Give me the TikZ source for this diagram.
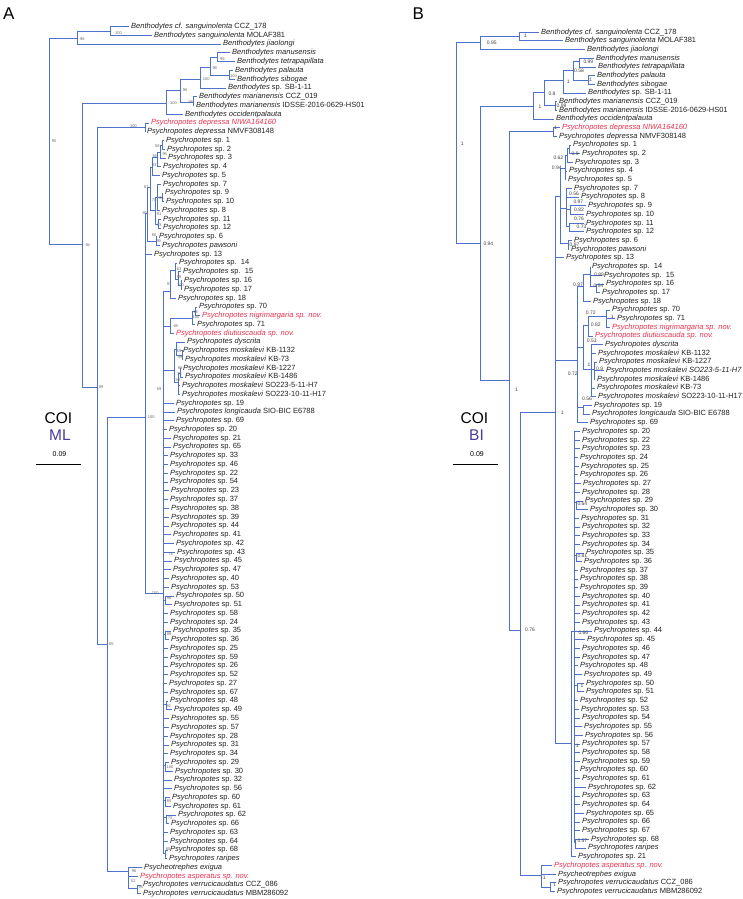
\documentclass[tikz,border=0pt]{standalone}
\usepackage{fontspec}
\setmainfont{Liberation Sans}
\setsansfont{Liberation Sans}
\definecolor{brc}{RGB}{78,114,204}
\definecolor{redt}{RGB}{235,50,80}
\definecolor{txt}{RGB}{35,35,35}
\definecolor{mlc}{RGB}{72,62,160}
\tikzset{
 br/.style={draw=brc, line width=1pt},
 lf/.style={anchor=west, inner xsep=2pt, inner ysep=0pt, font=\fontsize{7.5}{8}\selectfont, text=txt, text height=4.8pt, text depth=1.3pt},
 rd/.style={text=redt, font=\fontsize{7.5}{8}\selectfont\itshape},
 supA/.style={anchor=west, inner sep=0pt, font=\fontsize{4}{4}\selectfont, text=black!60},
 supB/.style={anchor=west, inner sep=0pt, font=\fontsize{5}{5}\selectfont, text=black!75},
 big/.style={inner sep=0pt, font=\fontsize{15.5}{16}\selectfont},
}
\newcommand\psy{\textit{Psychropotes}}
\newcommand\ben{\textit{Benthodytes}}
\newcommand\LA[5][]{\node[lf,#1] (la#4) at ({#3-2},{26.7+(#4-1)*8.76}) {#5};\draw[br] (#2) |- (la#4.west);}
\newcommand\SPA[4]{\LA{#1}{#2}{#3}{\psy{} sp.~#4}}
\newcommand\LB[5][]{\node[lf,#1] (lb#4) at ({#3-2},{32.3+(#4-1)*8.68}) {#5};\draw[br] (#2) |- (lb#4.west);}
\newcommand\SPB[4]{\LB{#1}{#2}{#3}{\psy{} sp.~#4}}
\newcommand\IN[4]{\coordinate (#1) at (#3,#4);\draw[br] (#2) |- (#1);}
\newcounter{slc}
\newcommand\SA[3]{\stepcounter{slc}\node[supA] (s\arabic{slc}) at (#1,#2) {#3};}
\newcommand\SB[3]{\stepcounter{slc}\node[supB] (s\arabic{slc}) at (#1,#2) {#3};}
\begin{document}
\begin{tikzpicture}[x=1pt,y=-1pt]
\fill[white] (0,0) rectangle (743,899);
\path[use as bounding box] (0,0) rectangle (743,899);
\node[anchor=base west, inner sep=0pt, font=\fontsize{17}{17}\selectfont] (pA) at (3,20) {A};
\node[anchor=base west, inner sep=0pt, font=\fontsize{17}{17}\selectfont] (pB) at (412.5,20) {B};
% legend A
\node[big, anchor=base] (coiA) at (58.5,423) {COI};
\node[big, anchor=base, text=mlc] (mlA) at (60,440) {ML};
\node[inner sep=0pt, font=\fontsize{7}{7}\selectfont] (sA) at (59.5,454.5) {0.09};
\coordinate (sA1) at (35.7,464); \coordinate (sA2) at (81,464);
\draw[line width=0.9pt] (sA1) -- (sA2);
% legend B
\node[big, anchor=base] (coiB) at (474.5,423) {COI};
\node[big, anchor=base, text=mlc] (biB) at (476.5,440) {BI};
\node[inner sep=0pt, font=\fontsize{7}{7}\selectfont] (sB) at (477,454.5) {0.09};
\coordinate (sB1) at (453.3,464); \coordinate (sB2) at (498.3,464);
\draw[line width=0.9pt] (sB1) -- (sB2);

% ================= TREE A =================
\coordinate (rA) at (49,141.5);
\IN{a96}{rA}{77}{38.7}
\IN{a100s}{a96}{110}{31.2}
\LA{a100s}{131}{1}{\textit{Benthodytes cf. sanguinolenta} CCZ\_178}
\LA{a100s}{154}{2}{\textit{Benthodytes sanguinolenta} MOLAF381}
\LA{a96}{223}{3}{\textit{Benthodytes jiaolongi}}
\IN{a94}{rA}{82}{244}
\IN{aB}{a94}{166}{103}
\IN{a96b}{aB}{180}{90}
\IN{a100b}{a96b}{200}{79}
\IN{a98}{a100b}{210}{67.5}
\IN{a99b}{a98}{217}{58}
\LA{a99b}{232}{4}{\textit{Benthodytes manusensis}}
\LA{a99b}{237}{5}{\textit{Benthodytes tetrapapillata}}
\IN{a100c}{a98}{229}{75.3}
\LA{a100c}{235}{6}{\textit{Benthodytes palauta}}
\LA{a100c}{237}{7}{\textit{Benthodytes sibogae}}
\LA{a100b}{228}{8}{\ben{} sp. SB-1-11}
\IN{aMar}{a96b}{193}{102.3}
\LA{aMar}{199}{9}{\textit{Benthodytes marianensis} CCZ\_019}
\LA{aMar}{196}{10}{\textit{Benthodytes marianensis} IDSSE-2016-0629-HS01}
\LA{aB}{185}{11}{\textit{Benthodytes occidentpalauta}}
\IN{a99}{a94}{97}{387}
\IN{aDep}{a99}{145}{127.8}
\LA[rd]{aDep}{151}{12}{Psychropotes depressa NIWA164160}
\LA{aDep}{147}{13}{\textit{Psychropotes depressa} NMVF308148}
\IN{a85}{a99}{107}{644}
\IN{aP}{a85}{145.7}{417}
\IN{a85n}{aP}{147.5}{213}
\IN{a67}{a85n}{150}{187}
\IN{a93}{a67}{152}{167}
\IN{a56}{a93}{157}{157}
\IN{a95}{a56}{160}{152}
\IN{a58}{a95}{162}{145}
\SPA{a58}{166}{14}{1}
\SPA{a58}{167}{15}{2}
\SPA{a95}{168}{16}{3}
\SPA{a56}{163}{17}{4}
\SPA{a93}{162}{18}{5}
\IN{a91}{a67}{155}{210}
\IN{a73a}{a91}{157}{197}
\SPA{a73a}{163}{19}{7}
\IN{a96c}{a73a}{162}{197.8}
\SPA{a96c}{165}{20}{9}
\SPA{a96c}{166}{21}{10}
\SPA{a73a}{162}{22}{8}
\IN{a73b}{a91}{158}{224.5}
\SPA{a73b}{163}{23}{11}
\SPA{a73b}{163}{24}{12}
\IN{a99g}{a85n}{156}{241.8}
\SPA{a99g}{159}{25}{6}
\LA{a99g}{162}{26}{\textit{Psychropotes pawsoni}}
\SPA{aP}{154}{27}{13}
\IN{a100e}{aP}{163}{593}
\IN{a97}{a100e}{170}{291}
\IN{a63}{a97}{175}{270}
\LA{a63}{179}{28}{\psy{} sp.\ \ 14}
\IN{a98c}{a63}{178}{279}
\LA{a98c}{183}{29}{\psy{} sp.\ \ 15}
\IN{a100f}{a98c}{181}{285.3}
\SPA{a100f}{184}{30}{16}
\SPA{a100f}{184}{31}{17}
\SPA{a97}{178}{32}{18}
\IN{a68b}{a100e}{170}{326}
\IN{a100g}{a68b}{192}{318}
\IN{a68}{a100g}{195}{311.4}
\SPA{a68}{199}{33}{70}
\LA[rd]{a68}{202}{34}{Psychropotes nigrimargaria sp. nov.}
\SPA{a100g}{197}{35}{71}
\LA[rd]{a68b}{176}{36}{Psychropotes diutiuscauda sp. nov.}
\IN{aM}{a100e}{174}{370}
\IN{a59m}{aM}{176}{349}
\LA{a59m}{187}{37}{\textit{Psychropotes dyscrita}}
\IN{aKB}{a59m}{182}{355.7}
\LA{aKB}{183}{38}{\textit{Psychropotes moskalevi} KB-1132}
\LA{aKB}{185}{39}{\textit{Psychropotes moskalevi} KB-73}
\IN{aKB2}{aM}{178}{382}
\IN{aAm}{aKB2}{180}{373.7}
\LA{aAm}{183}{40}{\textit{Psychropotes moskalevi} KB-1227}
\LA{aAm}{185}{41}{\textit{Psychropotes moskalevi} KB-1486}
\LA{aKB2}{182}{42}{\textit{Psychropotes moskalevi} SO223-5-11-H7}
\LA{aKB2}{182}{43}{\textit{Psychropotes moskalevi} SO223-10-11-H17}
\SPA{a100e}{176}{44}{19}
\LA{a100e}{177}{45}{\textit{Psychropotes longicauda} SIO-BIC E6788}
\SPA{a100e}{176}{46}{69}
\SPA{a100e}{169}{47}{20}
\SPA{a100e}{173}{48}{21}
\SPA{a100e}{173}{49}{65}
\SPA{a100e}{170}{50}{33}
\SPA{a100e}{170}{51}{46}
\SPA{a100e}{170}{52}{22}
\SPA{a100e}{170}{53}{54}
\SPA{a100e}{171}{54}{23}
\SPA{a100e}{170}{55}{37}
\SPA{a100e}{171}{56}{38}
\SPA{a100e}{171}{57}{39}
\SPA{a100e}{171}{58}{44}
\SPA{a100e}{173}{59}{41}
\SPA{a100e}{176}{60}{42}
\SPA{a100e}{177}{61}{43}
\SPA{a100e}{174}{62}{45}
\SPA{a100e}{173}{63}{47}
\SPA{a100e}{171}{64}{40}
\SPA{a100e}{171}{65}{53}
\IN{aC50}{a100e}{165}{600}
\SPA{aC50}{176}{66}{50}
\SPA{aC50}{174}{67}{51}
\SPA{a100e}{170}{68}{58}
\SPA{a100e}{170}{69}{24}
\IN{aC35}{a100e}{165}{634.8}
\SPA{aC35}{173}{70}{35}
\SPA{aC35}{171}{71}{36}
\SPA{a100e}{170}{72}{25}
\SPA{a100e}{170}{73}{59}
\SPA{a100e}{170}{74}{26}
\SPA{a100e}{170}{75}{52}
\SPA{a100e}{169}{76}{27}
\SPA{a100e}{170}{77}{67}
\IN{aC48}{a100e}{166}{704}
\SPA{aC48}{170}{78}{48}
\SPA{aC48}{174}{79}{49}
\SPA{a100e}{171}{80}{55}
\SPA{a100e}{171}{81}{57}
\SPA{a100e}{170}{82}{28}
\SPA{a100e}{171}{83}{31}
\SPA{a100e}{170}{84}{34}
\IN{aC29}{a100e}{165}{765.2}
\SPA{aC29}{171}{85}{29}
\SPA{aC29}{175}{86}{30}
\SPA{a100e}{174}{87}{32}
\SPA{a100e}{174}{88}{56}
\IN{aC60}{a100e}{165}{800.3}
\SPA{aC60}{172}{89}{60}
\SPA{aC60}{173}{90}{61}
\IN{aC62}{a100e}{166}{817.7}
\SPA{aC62}{178}{91}{62}
\SPA{aC62}{171}{92}{66}
\SPA{a100e}{170}{93}{63}
\SPA{a100e}{170}{94}{64}
\IN{aC68}{a100e}{165}{853}
\SPA{aC68}{170}{95}{68}
\LA{aC68}{169}{96}{\textit{Psychropotes raripes}}
\IN{aOut}{a85}{128}{871.7}
\LA{aOut}{144}{97}{\textit{Psycheotrephes exigua}}
\LA[rd]{aOut}{140}{98}{Psychropotes asperatus sp. nov.}
\IN{aVerr}{aOut}{137}{888}
\LA{aVerr}{143}{99}{\textit{Psychropotes verrucicaudatus} CCZ\_086}
\LA{aVerr}{143}{100}{\textit{Psychropotes verrucicaudatus} MBM286092}
% support A
\SA{51.7}{141}{95}
\SA{80}{39}{96}
\SA{115}{32.7}{100}
\SA{85.3}{245}{94}
\SA{170}{102.7}{100}
\SA{182.7}{90}{96}
\SA{202.7}{79.3}{100}
\SA{212.3}{67.7}{98}
\SA{220}{59}{99}
\SA{230}{76}{100}
\SA{188.5}{102.3}{95}
\SA{130}{125.7}{100}
\SA{155}{145.7}{58}
\SA{162.3}{154}{95}
\SA{152.3}{155.7}{56}
\SA{151.7}{165}{93}
\SA{144}{187.3}{67}
\SA{159}{197.7}{96}
\SA{151.7}{200}{70}
\SA{156.7}{214.3}{91}
\SA{142.3}{213.3}{85}
\SA{156.7}{225}{73}
\SA{151.7}{235}{60}
\SA{156.3}{241}{99}
\SA{176.7}{268.7}{63}
\SA{176.7}{276.7}{98}
\SA{177}{285}{100}
\SA{166.7}{284}{97}
\SA{193.3}{311.7}{68}
\SA{192.5}{317.3}{100}
\SA{173.3}{325.7}{68}
\SA{176.7}{350.7}{59}
\SA{177.7}{357.3}{99}
\SA{177.7}{367.7}{99}
\SA{177}{374}{75}
\SA{175.5}{380}{99}
\SA{156.7}{389.3}{59}
\SA{147.7}{416.7}{100}
\SA{98.7}{387.3}{99}
\SA{168.3}{554.3}{74}
\SA{151.7}{593.3}{100}
\SA{166.7}{598.3}{96}
\SA{166.7}{634.3}{99}
\SA{109}{644.3}{85}
\SA{166.5}{705.7}{81}
\SA{166.5}{766.8}{100}
\SA{166.7}{800.7}{85}
\SA{167.7}{817.7}{70}
\SA{165.7}{849}{85}
\SA{131.7}{870.7}{96}
\SA{131}{881}{52}
\SA{138.5}{886.7}{95}

% ================= TREE B =================
\coordinate (rB) at (456,143.3);
\IN{nB095}{rB}{480}{42.7}
\IN{nBs}{nB095}{519}{36.2}
\LB{nBs}{541}{1}{\textit{Benthodytes cf. sanguinolenta} CCZ\_178}
\LB{nBs}{565}{2}{\textit{Benthodytes sanguinolenta} MOLAF381}
\LB{nB095}{587}{3}{\textit{Benthodytes jiaolongi}}
\IN{nB094}{rB}{480}{243.3}
\IN{nBB}{nB094}{533.3}{106}
\IN{nB08}{nBB}{544}{92.5}
\IN{nB1b}{nB08}{563}{80.5}
\IN{nB058}{nB1b}{573}{70.7}
\IN{nB099}{nB058}{579}{61.8}
\LB{nB099}{596}{4}{\textit{Benthodytes manusensis}}
\LB{nB099}{598}{5}{\textit{Benthodytes tetrapapillata}}
\IN{nBpal}{nB058}{588}{80}
\LB{nBpal}{597}{6}{\textit{Benthodytes palauta}}
\LB{nBpal}{597}{7}{\textit{Benthodytes sibogae}}
\LB{nB1b}{588}{8}{\ben{} sp. SB-1-11}
\IN{nBmar}{nB08}{555}{105}
\LB{nBmar}{559}{9}{\textit{Benthodytes marianensis} CCZ\_019}
\LB{nBmar}{559}{10}{\textit{Benthodytes marianensis} IDSSE-2016-0629-HS01}
\LB{nBB}{556}{11}{\textit{Benthodytes occidentpalauta}}
\IN{nB1c}{nB094}{509.3}{380}
\IN{nBdep}{nB1c}{553}{131.2}
\LB[rd]{nBdep}{562}{12}{Psychropotes depressa NIWA164160}
\LB{nBdep}{559}{13}{\textit{Psychropotes depressa} NMVF308148}
\IN{nB076}{nB1c}{520.7}{630}
\IN{nB1d}{nB076}{555.7}{412.7}
\IN{nBg1}{nB1d}{560}{196.7}
\IN{nB094s}{nBg1}{565}{168}
\IN{nB062}{nB094s}{567}{155.4}
\IN{nB09}{nB062}{569.3}{148.8}
\SPB{nB09}{573}{14}{1}
\SPB{nB09}{582}{15}{2}
\SPB{nB062}{575}{16}{3}
\SPB{nB094s}{569}{17}{4}
\SPB{nB094s}{568}{18}{5}
\IN{nB07g}{nBg1}{566.7}{208}
\SPB{nB07g}{574}{19}{7}
\SPB{nB07g}{581}{20}{8}
\IN{nB097a}{nB07g}{570}{209.3}
\SPB{nB097a}{588}{21}{9}
\SPB{nB097a}{586}{22}{10}
\IN{nB076a}{nB07g}{569}{226.5}
\SPB{nB076a}{586}{23}{11}
\SPB{nB076a}{586}{24}{12}
\IN{nB097p}{nBg1}{568}{243.8}
\SPB{nB097p}{574}{25}{6}
\LB{nB097p}{571}{26}{\textit{Psychropotes pawsoni}}
\SPB{nB1d}{566}{27}{13}
\IN{nBmid}{nB1d}{577.3}{360}
\IN{nB097}{nBmid}{583}{286}
\IN{nB089}{nB097}{590}{274}
\LB{nB089}{592}{28}{\psy{} sp.\ \ 14}
\LB{nB089}{604}{29}{\psy{} sp.\ \ 15}
\IN{nB094q}{nB089}{596.7}{286.7}
\SPB{nB094q}{606}{30}{16}
\SPB{nB094q}{602}{31}{17}
\SPB{nB097}{593}{32}{18}
\IN{nB053}{nBmid}{583.3}{347}
\IN{nB082}{nB053}{588.3}{325.3}
\IN{nB1g}{nB082}{606.7}{316.7}
\SPB{nB1g}{612}{33}{70}
\SPB{nB1g}{617}{34}{71}
\LB[rd]{nB1g}{612}{35}{Psychropotes nigrimargaria sp. nov.}
\LB[rd]{nB082}{595}{36}{Psychropotes diutiuscauda sp. nov.}
\IN{nBmosk}{nB053}{591.7}{369}
\LB{nBmosk}{605}{37}{\textit{Psychropotes dyscrita}}
\LB{nBmosk}{598}{38}{\textit{Psychropotes moskalevi} KB-1132}
\IN{nB09m}{nBmosk}{594.3}{369}
\LB{nB09m}{599}{39}{\textit{Psychropotes moskalevi} KB-1227}
\LB{nB09m}{606}{40}{\textit{Psychropotes moskalevi SO223-5-11-H7}}
\LB{nB09m}{597}{41}{\textit{Psychropotes moskalevi} KB-1486}
\LB{nBmosk}{597}{42}{\textit{Psychropotes moskalevi} KB-73}
\LB{nBmosk}{598}{43}{\textit{Psychropotes moskalevi} SO223-10-11-H17}
\IN{nB056}{nBmid}{583}{407.5}
\SPB{nB056}{594}{44}{19}
\LB{nB056}{592}{45}{\textit{Psychropotes longicauda} SIO-BIC E6788}
\SPB{nBmid}{590}{46}{69}
\IN{nB1e}{nB1d}{571.7}{743.3}
\IN{nB066}{nB1e}{574.3}{631.7}
\SPB{nB066}{582}{47}{20}
\SPB{nB066}{582}{48}{22}
\SPB{nB066}{582}{49}{23}
\SPB{nB066}{580}{50}{24}
\SPB{nB066}{581}{51}{25}
\SPB{nB066}{580}{52}{26}
\SPB{nB066}{583}{53}{27}
\SPB{nB066}{582}{54}{28}
\IN{nB064}{nB066}{576}{502.5}
\SPB{nB064}{585}{55}{29}
\SPB{nB064}{590}{56}{30}
\SPB{nB066}{581}{57}{31}
\SPB{nB066}{582}{58}{32}
\SPB{nB066}{582}{59}{33}
\SPB{nB066}{582}{60}{34}
\IN{nB081}{nB066}{576}{555.2}
\SPB{nB081}{586}{61}{35}
\SPB{nB081}{584}{62}{36}
\SPB{nB066}{580}{63}{37}
\SPB{nB066}{580}{64}{38}
\SPB{nB066}{580}{65}{39}
\SPB{nB066}{582}{66}{40}
\SPB{nB066}{582}{67}{41}
\SPB{nB066}{582}{68}{42}
\SPB{nB066}{582}{69}{43}
\SPB{nB066}{594}{70}{44}
\SPB{nB066}{587}{71}{45}
\SPB{nB066}{582}{72}{46}
\SPB{nB066}{582}{73}{47}
\SPB{nB066}{580}{74}{48}
\SPB{nB066}{584}{75}{49}
\IN{nB1p}{nB066}{577}{685.7}
\SPB{nB1p}{586}{76}{50}
\SPB{nB1p}{586}{77}{51}
\SPB{nB066}{580}{78}{52}
\SPB{nB066}{581}{79}{53}
\SPB{nB066}{582}{80}{54}
\SPB{nB066}{584}{81}{55}
\SPB{nB066}{585}{82}{56}
\SPB{nB066}{582}{83}{57}
\SPB{nB066}{582}{84}{58}
\SPB{nB066}{582}{85}{59}
\SPB{nB066}{580}{86}{60}
\SPB{nB066}{582}{87}{61}
\SPB{nB066}{588}{88}{62}
\SPB{nB066}{582}{89}{63}
\SPB{nB066}{582}{90}{64}
\SPB{nB066}{586}{91}{65}
\SPB{nB066}{582}{92}{66}
\SPB{nB066}{582}{93}{67}
\IN{nB057}{nB066}{575.7}{842.5}
\SPB{nB057}{591}{94}{68}
\LB{nB057}{588}{95}{\textit{Psychropotes raripes}}
\SPB{nB1e}{578}{96}{21}
\IN{nBout}{nB076}{541.7}{875}
\LB[rd]{nBout}{554}{97}{Psychropotes asperatus sp. nov.}
\LB{nBout}{558}{98}{\textit{Psycheotrephes exigua}}
\IN{nBverr}{nBout}{550}{887}
\LB{nBverr}{558}{99}{\textit{Psychropotes verrucicaudatus} CCZ\_086}
\LB{nBverr}{557}{100}{\textit{Psychropotes verrucicaudatus} MBM286092}
% support B
\SB{460.7}{143.3}{1}
\SB{486.7}{42.7}{0.95}
\SB{524}{36}{1}
\SB{538.3}{106.7}{1}
\SB{548.3}{93.3}{0.8}
\SB{566.7}{81.7}{1}
\SB{574}{70.7}{0.58}
\SB{583.3}{61.7}{0.99}
\SB{589}{80}{1}
\SB{556.5}{105.8}{0.98}
\SB{554}{127.3}{1}
\SB{483.3}{243.3}{0.94}
\SB{571.5}{153.3}{0.9}
\SB{553.3}{157.3}{0.62}
\SB{551.7}{167.3}{0.94}
\SB{569}{193.3}{0.56}
\SB{573.3}{201.7}{0.97}
\SB{574}{210}{0.82}
\SB{574}{218.3}{0.76}
\SB{576.5}{226.7}{0.73}
\SB{569.5}{244.7}{0.97}
\SB{573}{285}{0.97}
\SB{594}{274.3}{0.89}
\SB{593.5}{286}{0.94}
\SB{585.7}{312.3}{0.72}
\SB{610.7}{316.7}{1}
\SB{590.7}{324.3}{0.82}
\SB{586.7}{340.5}{0.53}
\SB{587.3}{365}{1}
\SB{596}{369}{0.9}
\SB{567.7}{374}{0.72}
\SB{560.7}{412.7}{1}
\SB{582}{399}{0.56}
\SB{515}{390}{1}
\SB{577.3}{503.3}{0.64}
\SB{577.3}{556}{0.81}
\SB{525}{630}{0.76}
\SB{578.3}{632.3}{0.66}
\SB{580.5}{686}{1}
\SB{575.7}{746}{1}
\SB{577.3}{840.7}{0.57}
\SB{542.7}{877.3}{1}
\SB{553}{885}{1}
\end{tikzpicture}
\end{document}
